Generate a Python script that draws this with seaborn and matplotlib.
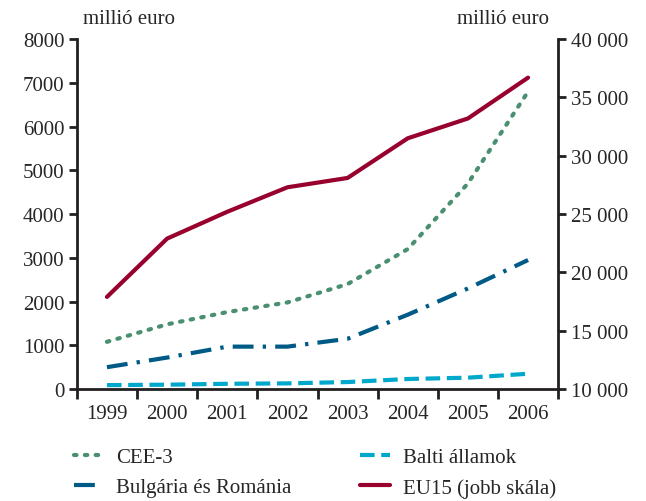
import matplotlib
matplotlib.use("Agg")
import matplotlib.pyplot as plt
import seaborn as sns
import pandas as pd
import numpy as np

years = ["1999", "2000", "2001", "2002", "2003", "2004", "2005", "2006"]
cee3 = [1080, 1480, 1760, 1980, 2400, 3200, 4700, 6800]
bul_rom = [500, 720, 970, 970, 1150, 1700, 2300, 2950]
balti = [90, 100, 120, 130, 160, 230, 260, 350]
eu15 = [17900, 22900, 25200, 27300, 28100, 31500, 33200, 36700]

left_ticks = [0, 1000, 2000, 3000, 4000, 5000, 6000, 7000, 8000]
right_ticks = [10000, 15000, 20000, 25000, 30000, 35000, 40000]
right_labels = ["10 000", "15 000", "20 000", "25 000", "30 000", "35 000", "40 000"]

sns.set_style("ticks")
plt.rcParams["font.family"] = ["Liberation Serif", "DejaVu Serif"]
plt.rcParams["font.size"] = 15

FS = 15
fig = plt.figure(figsize=(6.46, 5.02), dpi=100)
ax = fig.add_axes([0.119, 0.223, 0.745, 0.697])
ax2 = ax.twinx()

pos = np.arange(len(years))
df = pd.DataFrame({"pos": pos, "CEE-3": cee3, "Bulgária és Románia": bul_rom,
                   "Balti államok": balti, "EU15 (jobb skála)": eu15})

c_cee = "#4a8f70"
c_bul = "#005a86"
c_bal = "#00a8cc"
c_eu = "#98002e"

sns.lineplot(data=df, x="pos", y="CEE-3", ax=ax, color=c_cee, lw=3,
             label="CEE-3", legend=False)
ax.lines[-1].set_linestyle((0, (0.6, 2.0)))
ax.lines[-1].set_dash_capstyle("round")
sns.lineplot(data=df, x="pos", y="Bulgária és Románia", ax=ax, color=c_bul, lw=3,
             label="Bulgária és Románia", legend=False)
ax.lines[-1].set_linestyle((0, (5, 2.2, 0.8, 2.2)))
sns.lineplot(data=df, x="pos", y="Balti államok", ax=ax, color=c_bal, lw=3,
             label="Balti államok", legend=False)
ax.lines[-1].set_linestyle((0, (3.5, 1.6)))
sns.lineplot(data=df, x="pos", y="EU15 (jobb skála)", ax=ax2, color=c_eu, lw=3,
             label="EU15 (jobb skála)", legend=False)

ax.set_xlim(-0.5, len(years) - 0.5)
ax.set_ylim(0, 8000)
ax2.set_ylim(10000, 40000)
ax.set_yticks(left_ticks)
ax.set_yticklabels([str(t) for t in left_ticks])
ax2.set_yticks(right_ticks)
ax2.set_yticklabels(right_labels)

ax.set_xticks(np.arange(-0.5, len(years), 1.0))
ax.set_xticklabels([])
ax.set_xticks(pos, minor=True)
ax.set_xticklabels(years, minor=True)
ax.tick_params(axis="x", which="minor", length=0, pad=11, labelsize=FS)
ax.tick_params(axis="x", which="major", length=7, width=2, direction="out", color="#231f20")
ax.tick_params(axis="y", length=6, width=2, direction="out", color="#231f20", labelsize=FS, pad=3)
ax2.tick_params(axis="y", length=6, width=2, direction="out", color="#231f20", labelsize=FS, pad=3)
ax.set_xlabel("")
ax.set_ylabel("")
ax2.set_ylabel("")

for a in (ax, ax2):
    a.spines["top"].set_visible(False)
    for s in ("left", "right", "bottom"):
        a.spines[s].set_linewidth(2)
        a.spines[s].set_color("#231f20")
ax.spines["right"].set_visible(False)
ax2.spines["left"].set_visible(False)
ax2.spines["bottom"].set_visible(False)

fig.text(0.199, 0.962, "millió euro", ha="center", va="center", fontsize=FS)
fig.text(0.778, 0.962, "millió euro", ha="center", va="center", fontsize=FS)

handles = ax.lines[:3] + ax2.lines[:1]
labels = ["CEE-3", "Bulgária és Románia", "Balti államok", "EU15 (jobb skála)"]
fig.legend(handles, labels, loc="upper left", bbox_to_anchor=(0.114, 0.106), ncol=2,
           frameon=False, fontsize=FS, handlelength=1.4, handletextpad=0.65,
           columnspacing=3.3, labelspacing=0.5, borderpad=0, borderaxespad=0)

fig.savefig("out.png", dpi=100)
